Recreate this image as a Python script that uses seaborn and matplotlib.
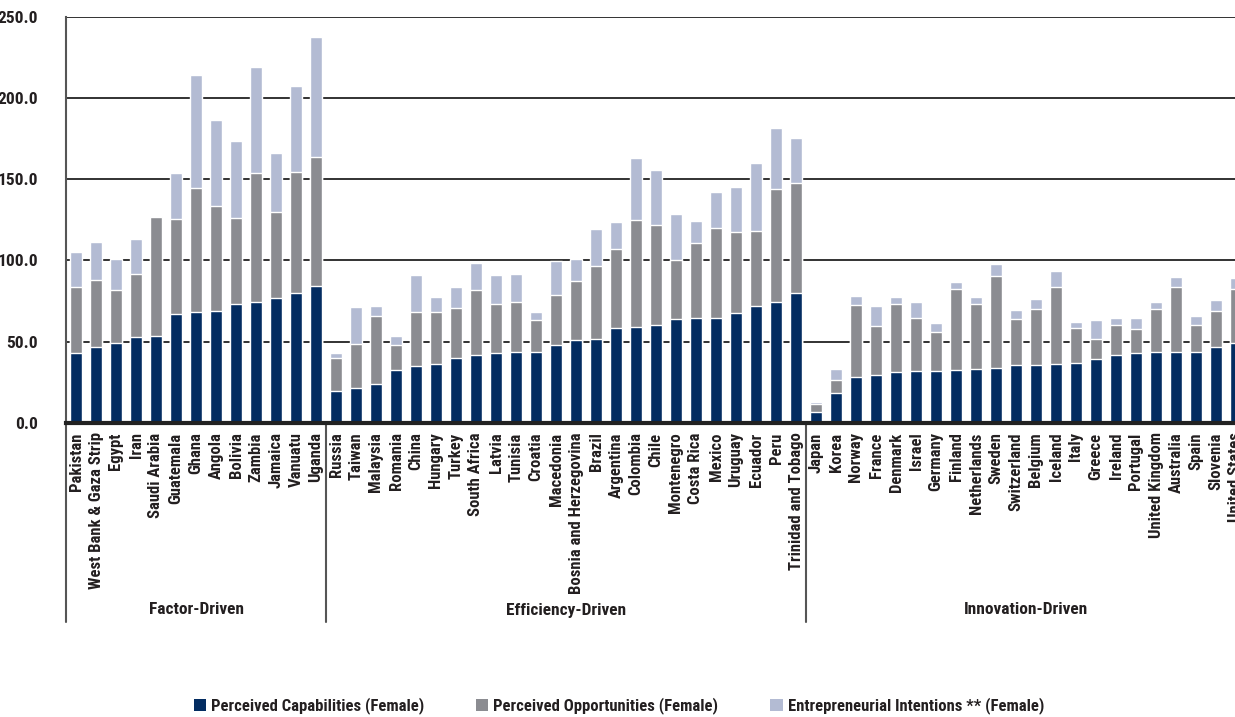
import numpy as np
import pandas as pd
import matplotlib
matplotlib.use("Agg")
import matplotlib.pyplot as plt
import seaborn as sns
from matplotlib.patches import Patch
from matplotlib import font_manager

# ---------------- data ----------------
factor_countries = ["Pakistan", "West Bank & Gaza Strip", "Egypt", "Iran", "Saudi Arabia",
                    "Guatemala", "Ghana", "Angola", "Bolivia", "Zambia", "Jamaica",
                    "Vanuatu", "Uganda"]
efficiency_countries = ["Russia", "Taiwan", "Malaysia", "Romania", "China", "Hungary",
                        "Turkey", "South Africa", "Latvia", "Tunisia", "Croatia",
                        "Macedonia", "Bosnia and Herzegovina", "Brazil", "Argentina",
                        "Colombia", "Chile", "Montenegro", "Costa Rica", "Mexico",
                        "Uruguay", "Ecuador", "Peru", "Trinidad and Tobago"]
innovation_countries = ["Japan", "Korea", "Norway", "France", "Denmark", "Israel",
                        "Germany", "Finland", "Netherlands", "Sweden", "Switzerland",
                        "Belgium", "Iceland", "Italy", "Greece", "Ireland", "Portugal",
                        "United Kingdom", "Australia", "Spain", "Slovenia",
                        "United States"]
group_names = ["Factor-Driven", "Efficiency-Driven", "Innovation-Driven"]

capabilities = [43.1, 46.8, 49.3, 52.7, 53.4, 66.9, 68.1, 68.8, 73.1, 74.3, 76.8, 79.8, 84.2,
                19.5, 21.3, 23.8, 32.4, 34.9, 36.1, 39.8, 41.7, 42.9, 43.5, 43.5, 47.8,
                50.9, 51.5, 58.3, 58.9, 60.1, 63.8, 64.4, 64.4, 67.5, 71.8, 74.3, 79.8,
                6.6, 18.3, 28.1, 29.4, 31.2, 31.8, 31.8, 32.4, 33.0, 33.7, 35.5, 35.5,
                36.1, 36.7, 39.2, 41.7, 42.9, 43.5, 43.5, 43.5, 46.6, 49.1]
opportunities = [40.6, 41.0, 32.4, 38.8, 73.0, 58.5, 76.4, 64.6, 52.9, 79.4, 52.9, 74.6, 79.4,
                 20.5, 27.1, 41.9, 15.4, 33.2, 32.0, 30.8, 40.0, 30.2, 30.8, 19.7, 30.8,
                 36.3, 45.0, 48.6, 65.9, 61.6, 36.4, 46.2, 55.5, 49.9, 46.2, 69.6, 67.8,
                 4.9, 8.0, 44.4, 30.1, 41.9, 32.6, 24.0, 49.9, 40.1, 56.6, 28.3, 34.5,
                 47.4, 21.6, 12.3, 18.4, 14.8, 26.5, 40.0, 16.6, 22.2, 33.2]
intentions = [21.4, 23.4, 18.9, 21.6, 0.9, 28.3, 69.6, 53.0, 47.4, 65.3, 36.4, 52.9, 73.9,
              2.9, 22.8, 6.1, 5.6, 22.8, 9.3, 12.9, 16.6, 17.8, 17.2, 4.9, 20.7,
              13.4, 22.8, 16.7, 38.2, 33.9, 28.3, 13.6, 22.1, 27.7, 41.9, 37.5, 27.7,
              1.2, 6.7, 5.5, 12.3, 4.3, 9.9, 5.6, 4.3, 4.3, 7.4, 5.6, 6.1,
              9.9, 3.7, 11.7, 4.3, 6.7, 4.3, 6.2, 5.6, 6.7, 6.8]

series_labels = ["Perceived Capabilities (Female)", "Perceived Opportunities (Female)",
                 "Entrepreneurial Intentions ** (Female)"]
colors = ["#032c61", "#8b8c91", "#b3bbd3"]

countries = factor_countries + efficiency_countries + innovation_countries
groups = ([group_names[0]] * len(factor_countries) + [group_names[1]] * len(efficiency_countries)
          + [group_names[2]] * len(innovation_countries))

df = pd.DataFrame({"country": countries, "group": groups,
                   "cap": capabilities, "opp": opportunities, "int": intentions})
df["cap_opp"] = df["cap"] + df["opp"]
df["total"] = df["cap_opp"] + df["int"]

# ---------------- style ----------------
sns.set_style("white")
avail = {f.name for f in font_manager.fontManager.ttflist}
fam = [f for f in ["Liberation Sans Narrow", "Roboto Condensed", "DejaVu Sans Condensed"] if f in avail]
plt.rcParams["font.family"] = fam + ["DejaVu Sans"]
plt.rcParams["font.weight"] = "bold"
text_color = "#231f20"

fig = plt.figure(figsize=(12.35, 7.17), dpi=100)
ax_left, ax_right_px, ax_top_px, ax_bot_px = 66, 1246, 16.7, 422.7
ax = fig.add_axes([ax_left / 1235, 1 - ax_bot_px / 717,
                   (ax_right_px - ax_left) / 1235, (ax_bot_px - ax_top_px) / 717])

bw = 0.58
sns.barplot(data=df, x="country", y="total", order=countries, color=colors[2],
            saturation=1, width=bw, errorbar=None, ax=ax, zorder=3)
sns.barplot(data=df, x="country", y="cap_opp", order=countries, color=colors[1],
            saturation=1, width=bw, errorbar=None, ax=ax, zorder=3)
sns.barplot(data=df, x="country", y="cap", order=countries, color=colors[0],
            saturation=1, width=bw, errorbar=None, ax=ax, zorder=3)

n = len(countries)
ax.set_xlim(-0.5, n - 0.5)
ax.set_ylim(0, 250)
yt = np.arange(0, 251, 50)
ax.set_yticks(yt)
ax.set_yticklabels([f"{v:.1f}" for v in yt], fontsize=12.5, fontweight="bold", color=text_color)
ax.set_xlabel("")
ax.set_ylabel("")
ax.tick_params(axis="y", length=0, pad=20)
ax.tick_params(axis="x", length=0, pad=7)
ax.set_xticks(range(n))
ax.set_xticklabels(countries, rotation=90, fontsize=12, fontweight="bold",
                   color=text_color, va="top", ha="center")

ax.yaxis.grid(True, color="#222222", linewidth=1.3, zorder=1)
ax.xaxis.grid(False)
ax.set_axisbelow(True)
for s in ["top", "right"]:
    ax.spines[s].set_visible(False)
ax.spines["left"].set_color("#555555")
ax.spines["left"].set_linewidth(1.5)
ax.spines["bottom"].set_color("#222222")
ax.spines["bottom"].set_linewidth(3)
ax.spines["bottom"].set_zorder(5)

# group separators and labels
trans = ax.get_xaxis_transform()
h_px = ax_bot_px - ax_top_px
y_line = -(622 - ax_bot_px) / h_px
y_lab = -(610 - ax_bot_px) / h_px
sizes = [len(factor_countries), len(efficiency_countries), len(innovation_countries)]
start = -0.5
for name, sz in zip(group_names, sizes):
    ax.plot([start, start], [0, y_line], transform=trans, color="#555555", lw=1.5,
            clip_on=False, zorder=5)
    ax.text(start + sz / 2, y_lab, name, transform=trans, ha="center", va="center",
            fontsize=12.5, fontweight="bold", color=text_color, clip_on=False)
    start += sz

handles = [Patch(facecolor=c, edgecolor="none") for c in colors]
fig.legend(handles, series_labels, loc="center", bbox_to_anchor=(0.501, 1 - 706 / 717),
           ncol=3, frameon=False, handlelength=0.75, handleheight=0.75, handletextpad=0.3,
           columnspacing=3.1, prop={"size": 12, "weight": "bold"}, labelcolor=text_color)

fig.savefig("out.png", dpi=100)
